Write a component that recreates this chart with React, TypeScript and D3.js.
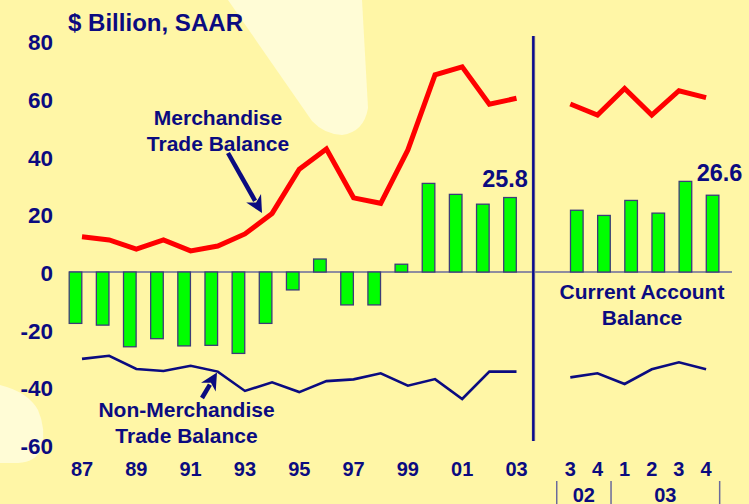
import React from "react";
import * as d3 from "d3";

// annual data, 1987-2003
const years = ["87", "88", "89", "90", "91", "92", "93", "94", "95", "96", "97", "98", "99", "00", "01", "02", "03"];
const currentAnnual = [-17.8, -18.4, -25.9, -23.1, -25.6, -25.4, -28.2, -17.8, -6.2, 4.5, -11.4, -11.4, 2.7, 30.7, 26.9, 23.5, 25.8];
const merchAnnual = [12.2, 11.1, 7.9, 11.1, 7.3, 9.0, 13.2, 20.3, 35.6, 42.6, 25.7, 23.8, 42.3, 68.3, 71.1, 58.1, 60.2];
const nonMerchAnnual = [-30.1, -29.0, -33.6, -34.3, -32.5, -34.5, -41.2, -38.2, -41.6, -37.8, -37.2, -35.1, -39.4, -37.1, -44.0, -34.5, -34.5];

// quarterly data, 2002Q3-2003Q4
const quarters = ["3", "4", "1", "2", "3", "4"];
const quarterYears = [{ label: "02", from: 0, to: 1 }, { label: "03", from: 2, to: 5 }];
const currentQuarterly = [21.4, 19.6, 24.8, 20.4, 31.4, 26.6];
const merchQuarterly = [58.2, 54.4, 63.6, 54.4, 62.8, 60.4];
const nonMerchQuarterly = [-36.5, -35.1, -38.8, -33.7, -31.3, -33.7];

const yTicks = [80, 60, 40, 20, 0, -20, -40, -60];

const W = 749;
const H = 504;
const NAVY = "#0b0b80";
const FONT = "'Liberation Sans', Arial, sans-serif";

function Arrow({ x1, y1, x2, y2 }: { x1: number; y1: number; x2: number; y2: number }) {
  const a = Math.atan2(y2 - y1, x2 - x1);
  const len = 17;
  const half = 8.5;
  const bx = x2 - len * Math.cos(a);
  const by = y2 - len * Math.sin(a);
  const px = -Math.sin(a) * half;
  const py = Math.cos(a) * half;
  return (
    <g>
      <line x1={x1} y1={y1} x2={bx + Math.cos(a) * 3} y2={by + Math.sin(a) * 3} stroke={NAVY} strokeWidth={4.5} />
      <path d={`M${x2},${y2}L${bx + px},${by + py}L${bx + Math.cos(a) * 5},${by + Math.sin(a) * 5}L${bx - px},${by - py}Z`} fill={NAVY} />
    </g>
  );
}

export default function App() {
  const x = d3.scaleLinear().domain([0, 16]).range([75.5, 510]);
  const y = d3.scaleLinear().domain([-60, 80]).range([445.2, 41.1]);
  const step = x(1) - x(0);
  const barW = 12.6;
  const qStart = 18.46;
  const xq = (i: number) => x(qStart + i);

  const annualLine = (vals: number[]) =>
    d3.line<number>().x((_, i) => x(i) + 6.5).y((d) => y(d))(vals) || "";
  const quarterLine = (vals: number[]) =>
    d3.line<number>().x((_, i) => xq(i) - 6.5).y((d) => y(d))(vals) || "";

  const bar = (cx: number, v: number, key: string) => (
    <rect
      key={key}
      x={cx - barW / 2}
      y={Math.min(y(v), y(0))}
      width={barW}
      height={Math.abs(y(v) - y(0))}
      fill="#00ff00"
      stroke="#3c3c78"
      strokeWidth={1.3}
    />
  );

  const lastA = currentAnnual.length - 1;
  const lastQ = currentQuarterly.length - 1;

  return (
    <svg width={W} height={H} style={{ position: "absolute", left: 0, top: 0, display: "block" }} fontFamily={FONT} fontWeight="bold">
      <rect width={W} height={H} fill="#fff6a6" />
      {/* pale background blobs */}
      <path d="M228,0 L312,121 Q324,134 342,135 Q364,132 368,108 L362,0 Z" fill="#fffcd6" />
      <path d="M0,385 Q28,392 38,410 Q46,428 42,448 Q36,462 18,463 L0,463 Z" fill="#fffcd6" />

      {/* zero line */}
      <line x1={69} x2={732} y1={y(0)} y2={y(0)} stroke="#6a6a9c" strokeWidth={1.5} />

      {/* bars */}
      {currentAnnual.map((v, i) => bar(x(i), v, "a" + i))}
      {currentQuarterly.map((v, i) => bar(xq(i), v, "q" + i))}

      {/* lines */}
      <path d={annualLine(merchAnnual)} fill="none" stroke="#ff0000" strokeWidth={5} strokeLinejoin="miter" />
      <path d={quarterLine(merchQuarterly)} fill="none" stroke="#ff0000" strokeWidth={5} />
      <path d={annualLine(nonMerchAnnual)} fill="none" stroke={NAVY} strokeWidth={2.6} />
      <path d={quarterLine(nonMerchQuarterly)} fill="none" stroke={NAVY} strokeWidth={2.6} />

      {/* divider */}
      <line x1={533.5} x2={533.5} y1={36} y2={441} stroke="#aaa58a" strokeWidth={3.5} />
      <line x1={533.3} x2={533.3} y1={36} y2={441} stroke="#0a0a90" strokeWidth={2.4} />

      {/* y axis labels */}
      {yTicks.map((t) => (
        <text key={t} x={53} y={y(t) + 9} textAnchor="end" fontSize={22.5} fill={NAVY}>
          {t}
        </text>
      ))}
      <text x={68} y={30.5} fontSize={23} fill={NAVY} textLength={175} lengthAdjust="spacingAndGlyphs">
        $ Billion, SAAR
      </text>

      {/* x axis labels */}
      {years.map((yr, i) =>
        i % 2 === 0 ? (
          <text key={yr} x={x(i) + 6.5} y={476} textAnchor="middle" fontSize={20} fill={NAVY}>
            {yr}
          </text>
        ) : null
      )}
      {quarters.map((q, i) => (
        <text key={"ql" + i} x={xq(i) - 6.5} y={476} textAnchor="middle" fontSize={20} fill={NAVY}>
          {q}
        </text>
      ))}
      {quarterYears.map((g) => (
        <text key={g.label} x={(xq(g.from) + xq(g.to)) / 2 - 6.5} y={501.5} textAnchor="middle" fontSize={20} fill={NAVY}>
          {g.label}
        </text>
      ))}
      {[xq(0) - 6.5 - step / 2, xq(1) - 6.5 + step / 2, xq(5) - 6.5 + step / 2].map((sx, i) => (
        <line key={"sep" + i} x1={sx} x2={sx} y1={481} y2={H} stroke="#6a6a9c" strokeWidth={1.5} />
      ))}

      {/* value labels */}
      <text x={x(lastA) - 5} y={y(currentAnnual[lastA]) - 10.5} textAnchor="middle" fontSize={23.5} fill={NAVY}>
        {currentAnnual[lastA].toFixed(1)}
      </text>
      <text x={xq(lastQ) + 7} y={y(currentQuarterly[lastQ]) - 14} textAnchor="middle" fontSize={23.5} fill={NAVY}>
        {currentQuarterly[lastQ].toFixed(1)}
      </text>

      {/* annotations */}
      <text x={218} y={125} textAnchor="middle" fontSize={21} fill={NAVY}>Merchandise</text>
      <text x={218} y={150.5} textAnchor="middle" fontSize={21} fill={NAVY}>Trade Balance</text>
      <Arrow x1={228} y1={153} x2={262} y2={213} />

      <text x={186.5} y={417} textAnchor="middle" fontSize={21} fill={NAVY}>Non-Merchandise</text>
      <text x={186.5} y={442.5} textAnchor="middle" fontSize={21} fill={NAVY}>Trade Balance</text>
      <Arrow x1={202} y1={398} x2={217} y2={372.5} />

      <text x={642} y={299} textAnchor="middle" fontSize={21} fill={NAVY}>Current Account</text>
      <text x={642} y={324.5} textAnchor="middle" fontSize={21} fill={NAVY}>Balance</text>
    </svg>
  );
}
